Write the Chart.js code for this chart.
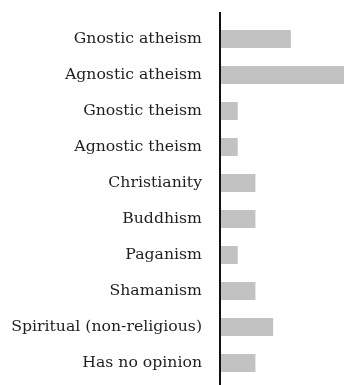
<!DOCTYPE html>
<html>
<head>
<meta charset="utf-8">
<script src="https://cdn.jsdelivr.net/npm/chart.js@4"></script>
<style>
  html, body { margin: 0; padding: 0; background: #fff; }
  #wrap { position: relative; width: 344px; height: 385px; }
</style>
</head>
<body>
<div id="wrap"><canvas id="c" width="344" height="385"></canvas></div>
<script>
// Survey responses per worldview
const categories = [
  'Gnostic atheism',
  'Agnostic atheism',
  'Gnostic theism',
  'Agnostic theism',
  'Christianity',
  'Buddhism',
  'Paganism',
  'Shamanism',
  'Spiritual (non-religious)',
  'Has no opinion'
];
const counts = [4, 7, 1, 1, 2, 2, 1, 2, 3, 2];
const xMax = 7;

// Extends the vertical axis line a little above and below the bar area
const axisLine = {
  id: 'axisLine',
  afterDraw(chart) {
    const { ctx, chartArea } = chart;
    const x = chart.scales.x.getPixelForValue(0);
    ctx.save();
    ctx.strokeStyle = '#111';
    ctx.lineWidth = 2;
    ctx.beginPath();
    ctx.moveTo(x, chartArea.top - 9);
    ctx.lineTo(x, chart.height);
    ctx.stroke();
    ctx.restore();
  }
};

new Chart(document.getElementById('c'), {
  type: 'bar',
  data: {
    labels: categories,
    datasets: [{
      data: counts,
      backgroundColor: '#c2c2c2',
      borderWidth: 0,
      categoryPercentage: 0.5,
      barPercentage: 1.0
    }]
  },
  options: {
    indexAxis: 'y',
    responsive: false,
    animation: false,
    layout: { padding: { top: 21, bottom: 4, left: 0, right: 0 } },
    plugins: { legend: { display: false }, tooltip: { enabled: false } },
    scales: {
      x: {
        min: 0,
        max: xMax,
        display: false,
        grid: { display: false }
      },
      y: {
        grid: { display: false, drawTicks: false },
        border: { display: false },
        ticks: {
          color: '#1e1e1e',
          padding: 18,
          font: { family: 'DejaVu Serif', size: 15.7 }
        },
        afterFit(scale) {
          scale.width = 220;
          scale.paddingTop = 0;
          scale.paddingBottom = 0;
        }
      }
    }
  },
  plugins: [axisLine]
});
</script>
</body>
</html>
